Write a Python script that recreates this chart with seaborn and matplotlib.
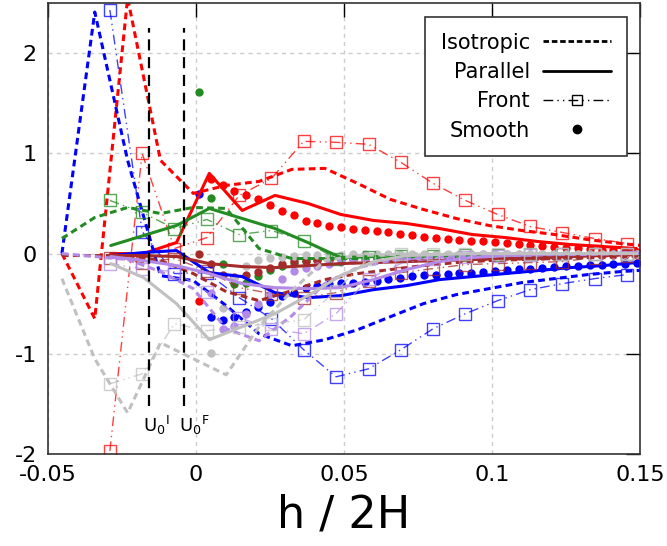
import numpy as np
import seaborn as sns
import matplotlib.pyplot as plt
from matplotlib.lines import Line2D

nan = np.nan

# h / 2H positions of the four kinds of data
x_iso = [-0.0453, -0.0342, -0.0231, -0.0120, -0.0009, 0.0102, 0.0213, 0.0324, 0.0435,
         0.0546, 0.0657, 0.0768, 0.0879, 0.0990, 0.1101, 0.1212, 0.1323, 0.1434, 0.1545]
x_par = [-0.0288, -0.0177, -0.0066, 0.0045, 0.0156, 0.0267, 0.0378, 0.0489, 0.0600,
         0.0711, 0.0822, 0.0933, 0.1044, 0.1155, 0.1266, 0.1377, 0.1488]
x_front = [-0.0291, -0.0182, -0.0073, 0.0037, 0.0146, 0.0255, 0.0364, 0.0473, 0.0583,
           0.0692, 0.0801, 0.0910, 0.1019, 0.1129, 0.1238, 0.1347, 0.1456]
x_smooth = [0.001, 0.005, 0.009, 0.013, 0.017, 0.021, 0.025, 0.029, 0.033, 0.037,
            0.041, 0.045, 0.049, 0.053, 0.057, 0.061, 0.065, 0.069, 0.073, 0.077,
            0.081, 0.085, 0.089, 0.093, 0.097, 0.101, 0.105, 0.109, 0.113, 0.117,
            0.121, 0.125, 0.129, 0.133, 0.137, 0.141, 0.145, 0.149]

# Isotropic
red_iso = [0.00, -0.65, 2.55, 0.93, 0.60, 0.68, 0.72, 0.84, 0.85, 0.70, 0.54, 0.44, 0.35, 0.28, 0.23, 0.19, 0.14, 0.10, 0.07]
blue_iso = [0.00, 2.41, 0.93, -0.22, -0.27, -0.52, -0.80, -0.92, -0.86, -0.76, -0.63, -0.50, -0.41, -0.35, -0.29, -0.25, -0.21, -0.18, -0.16]
green_iso = [0.15, 0.36, 0.46, 0.40, 0.46, 0.45, 0.05, -0.05, -0.05, -0.05, -0.04, -0.03, -0.03, -0.02, -0.02, -0.02, -0.01, -0.01, -0.01]
brown_iso = [-0.02, -0.02, -0.02, -0.07, -0.20, -0.38, -0.47, -0.37, -0.26, -0.20, -0.16, -0.12, -0.09, -0.07, -0.06, -0.05, -0.04, -0.03, -0.02]
purple_iso = [0.00, -0.03, -0.06, -0.18, -0.35, -0.75, -0.87, -0.62, -0.30, -0.14, -0.07, -0.04, -0.03, -0.02, -0.02, -0.01, -0.01, 0.00, 0.00]
grey_iso = [-0.25, -1.05, -1.59, -0.89, -1.05, -1.21, -0.73, -0.37, -0.07, -0.02, -0.01, 0.00, 0.00, 0.00, 0.00, 0.00, 0.00, 0.00, 0.00]

# Parallel
red_par = [0.00, 0.00, 0.11, 0.80, 0.43, 0.58, 0.50, 0.39, 0.33, 0.30, 0.25, 0.19, 0.16, 0.12, 0.09, 0.07, 0.05]
blue_par = [-0.02, 0.01, 0.03, -0.19, -0.23, -0.39, -0.44, -0.42, -0.36, -0.32, -0.26, -0.23, -0.20, -0.17, -0.14, -0.12, -0.09]
green_par = [0.08, 0.18, 0.28, 0.45, 0.35, 0.25, 0.11, -0.04, -0.03, -0.03, -0.02, -0.02, -0.01, -0.01, 0.00, 0.00, 0.00]
brown_par = [-0.02, -0.02, -0.03, -0.10, -0.13, -0.14, -0.12, -0.10, -0.09, -0.08, -0.07, -0.06, -0.05, -0.04, -0.03, -0.02, -0.01]
purple_par = [-0.03, -0.07, -0.12, -0.20, -0.30, -0.34, -0.35, -0.34, -0.26, -0.16, -0.08, -0.04, -0.02, -0.01, 0.00, 0.00, 0.01]
grey_par = [-0.10, -0.24, -0.50, -0.86, -0.73, -0.60, -0.42, -0.22, -0.08, -0.02, -0.01, 0.00, 0.00, 0.00, 0.00, 0.00, 0.00]

# Front
red_front = [-1.97, 1.00, 0.05, 0.16, 0.58, 0.75, 1.12, 1.11, 1.09, 0.91, 0.70, 0.53, 0.39, 0.27, 0.21, 0.15, 0.10]
blue_front = [2.43, 0.22, -0.20, -0.19, -0.44, -0.65, -0.96, -1.23, -1.15, -0.96, -0.75, -0.60, -0.47, -0.36, -0.30, -0.25, -0.21]
green_front = [0.53, 0.41, 0.25, 0.34, 0.19, 0.23, 0.13, -0.05, -0.03, -0.02, -0.02, -0.01, -0.01, 0.00, 0.00, 0.00, 0.00]
brown_front = [-0.04, -0.09, -0.05, -0.17, -0.34, -0.40, -0.44, -0.39, -0.27, -0.19, -0.15, -0.11, -0.10, -0.09, -0.08, -0.04, -0.02]
purple_front = [-0.10, -0.15, -0.18, -0.38, -0.64, -0.75, -0.80, -0.60, -0.25, -0.10, -0.05, -0.03, -0.02, -0.01, 0.00, 0.00, 0.00]
grey_front = [-1.30, -1.20, -0.70, -0.77, -0.73, -0.70, -0.66, -0.37, -0.05, 0.00, 0.00, 0.00, 0.00, 0.00, 0.00, 0.00, 0.00]

# Smooth
red_smooth = [-0.47, 0.74, 0.68, 0.62, 0.58, 0.54, 0.48, 0.42, 0.38, 0.32, 0.30, 0.27, 0.26, 0.25, 0.24, 0.23, 0.22, 0.20, 0.19,
              0.17, 0.16, 0.15, 0.14, 0.13, 0.13, 0.12, 0.11, 0.10, 0.09, 0.08, 0.07, 0.06, 0.06, 0.05, 0.04, 0.04, 0.03, 0.02]
blue_smooth = [0.59, -0.63, -0.66, -0.63, -0.58, -0.53, -0.48, -0.42, -0.39, -0.34, -0.32, -0.30, -0.29, -0.29, -0.28, -0.27, -0.25, -0.24, -0.22,
               -0.21, -0.21, -0.20, -0.19, -0.19, -0.18, -0.17, -0.16, -0.15, -0.15, -0.14, -0.13, -0.12, -0.12, -0.11, -0.11, -0.10, -0.10, -0.09]
green_smooth = [1.61, 0.55, -0.10, -0.30, -0.29, -0.22, -0.16, -0.12, -0.09, -0.07, -0.06, -0.05, -0.04, -0.04, -0.03, -0.03, -0.03, -0.02, -0.02,
                -0.02, -0.02, -0.02, -0.01, -0.01, -0.01, -0.01, -0.01, -0.01, -0.01, -0.01, 0.00, 0.00, 0.00, 0.00, 0.00, 0.00, 0.00, 0.00]
brown_smooth = [0.00, -0.10, -0.21, -0.23, -0.21, -0.18, -0.14, -0.10, -0.07, -0.07, -0.06, -0.06, -0.05, -0.05, -0.05, -0.04, -0.04, -0.04, -0.04,
                -0.03, -0.03, -0.03, -0.03, -0.03, -0.03, -0.02, -0.02, -0.02, -0.02, -0.02, -0.02, -0.02, -0.01, -0.01, -0.01, -0.01, -0.01, -0.01]
purple_smooth = [nan, -0.39, -0.75, -0.72, -0.60, -0.50, -0.40, -0.25, -0.17, -0.14, -0.12, -0.10, -0.08, -0.06, -0.05, -0.04, -0.03, -0.02, -0.02,
                 -0.01, -0.01, -0.01, -0.01, 0.00, 0.00, 0.00, 0.00, 0.00, 0.00, 0.00, 0.00, 0.00, 0.00, 0.00, 0.00, 0.00, 0.00, 0.00]
grey_smooth = [nan, -0.99, -0.54, -0.24, -0.12, -0.06, -0.04, -0.03, -0.02, -0.01, -0.01, -0.01, -0.01, 0.00, 0.00, 0.00, 0.00, 0.00, 0.00,
               0.00, 0.00, 0.00, 0.00, 0.00, 0.00, 0.00, 0.00, 0.00, 0.00, 0.00, 0.00, 0.00, 0.00, 0.00, 0.00, 0.00, 0.00, 0.00]

x_ticks = [-0.05, 0, 0.05, 0.1, 0.15]
x_tick_labels = ['-0.05', '0', '0.05', '0.1', '0.15']
y_ticks = [-2, -1, 0, 1, 2]
y_tick_labels = ['-2', '-1', '0', '1', '2']

# positions of the two marked velocities
u0_i = -0.016
u0_f = -0.0039

cases = [
    ('#ff0000', red_iso, red_par, red_front, red_smooth),
    ('#0000ff', blue_iso, blue_par, blue_front, blue_smooth),
    ('#228b22', green_iso, green_par, green_front, green_smooth),
    ('#a52a2a', brown_iso, brown_par, brown_front, brown_smooth),
    ('#b48ae8', purple_iso, purple_par, purple_front, purple_smooth),
    ('#c0c0c0', grey_iso, grey_par, grey_front, grey_smooth),
]

sns.set_theme(style='white')
plt.rcParams['font.family'] = ['DejaVu Sans']
plt.rcParams['axes.unicode_minus'] = False
plt.rcParams['text.color'] = 'black'

iso_ls = (0, (2.2, 1.4))
front_ls = (0, (7, 3, 1, 3, 1, 3))

fig = plt.figure(figsize=(6.67, 5.46), dpi=100)
ax = fig.add_axes([48 / 667, 1 - 454 / 546, 592 / 667, 451 / 546])

for color, iso, par, front, smooth in cases:
    sns.lineplot(x=x_front, y=front, ax=ax, color=color, alpha=0.75, lw=1.0,
                 linestyle=front_ls, marker='s', markersize=8,
                 markerfacecolor='none', markeredgecolor=color, markeredgewidth=1.0)
    sns.lineplot(x=x_iso, y=iso, ax=ax, color=color, lw=2.2, linestyle=iso_ls)
    sns.lineplot(x=x_par, y=par, ax=ax, color=color, lw=2.2)
    sns.scatterplot(x=x_smooth, y=smooth, ax=ax, color=color, s=36, linewidth=0)

for xv, lab in [(u0_i, 'U$_0$$^\\mathregular{I}$'), (u0_f, 'U$_0$$^\\mathregular{F}$')]:
    ax.plot([xv, xv], [-1.52, 2.25], color='black', lw=1.6, linestyle=(0, (5, 3)), zorder=5)
    ax.text(xv - 0.002, -1.72, lab, fontsize=13, ha='left', va='center', color='black')

ax.set_xlim(-0.05, 0.15)
ax.set_ylim(-2, 2.5)
ax.set_xticks(x_ticks)
ax.set_xticklabels(x_tick_labels)
ax.set_yticks(y_ticks)
ax.set_yticklabels(y_tick_labels)
ax.tick_params(direction='in', length=10, width=1, top=True, right=True,
               labelsize=16, color='black', labelcolor='black', pad=8)
ax.grid(True, color='#cccccc', lw=1, linestyle=(0, (3, 3)))
for sp in ax.spines.values():
    sp.set_color('#333333')
    sp.set_linewidth(1.2)
ax.set_xlabel('h / 2H', fontsize=32, labelpad=6, color='black')
ax.set_ylabel('')

handles = [
    Line2D([], [], color='black', lw=2, linestyle=(0, (2, 1))),
    Line2D([], [], color='black', lw=2),
    Line2D([], [], color='black', lw=1, linestyle=front_ls, marker='s',
           markersize=7, markerfacecolor='none'),
    Line2D([], [], color='black', lw=0, marker='o', markersize=6),
]
leg = ax.legend(handles, ['Isotropic', 'Parallel', 'Front', 'Smooth'],
                loc='upper right', bbox_to_anchor=(0.978, 0.969), fontsize=15,
                markerfirst=False, handlelength=3.3, handletextpad=0.6,
                labelspacing=0.45, borderpad=0.75, borderaxespad=0,
                fancybox=False, framealpha=1)
leg.get_frame().set_edgecolor('#333333')
leg.get_frame().set_linewidth(1.2)
for t in leg.get_texts():
    t.set_color('black')

fig.savefig('out.png', dpi=100)
